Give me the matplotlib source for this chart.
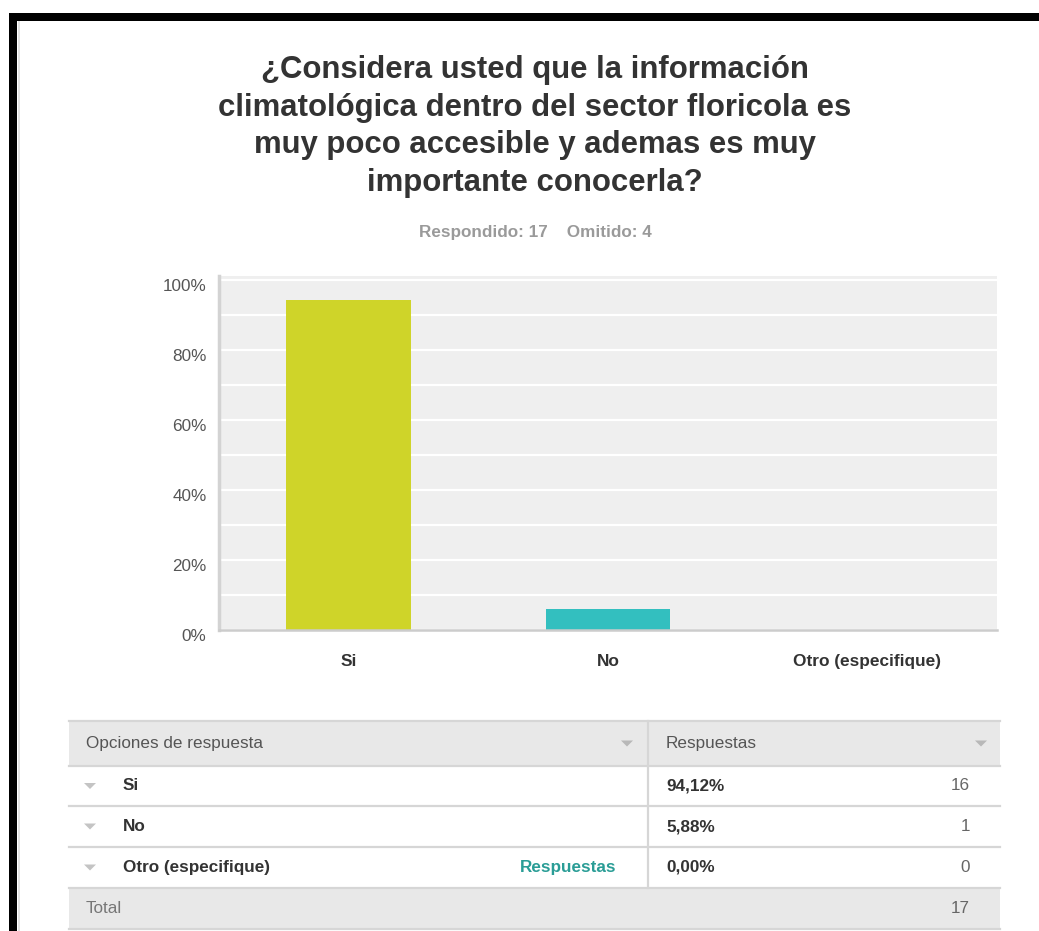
import matplotlib
matplotlib.use("Agg")
import matplotlib.pyplot as plt
from matplotlib.patches import Rectangle
from matplotlib.transforms import ScaledTranslation

plt.rcParams['font.family'] = ['Liberation Sans', 'DejaVu Sans']

# data
categories = ['Si', 'No', 'Otro (especifique)']
percents = [94.12, 5.88, 0.00]
counts = [16, 1, 0]
bar_colors = ['#cfd429', '#33bfbf', '#999999']
answered = 17
skipped = 4
title = ('¿Considera usted que la información\nclimatológica dentro del sector floricola es\n'
         'muy poco accesible y ademas es muy\nimportante conocerla?')
yticks = [0, 20, 40, 60, 80, 100]

W, H = 1039, 931
fig = plt.figure(figsize=(W / 100, H / 100), dpi=100)
fig.patch.set_facecolor('white')

# overlay axes in pixel coords for frame + table
ov = fig.add_axes([0, 0, 1, 1])
ov.set_xlim(0, W)
ov.set_ylim(H, 0)
ov.axis('off')
ov.add_patch(Rectangle((9, 13), W - 9, 8, color='black', lw=0))
ov.add_patch(Rectangle((9, 13), 8, H - 13, color='black', lw=0))
ov.add_patch(Rectangle((18, 21), 2, H - 21, color='#e2e2e2', lw=0))

# title + subtitle
fig.text(535 / W, 1 - 55 / H, title, ha='center', va='top', fontsize=22.4,
         fontweight='bold', color='#333333', linespacing=1.33)
fig.text(535 / W, 1 - 232 / H, f'Respondido: {answered}    Omitido: {skipped}',
         ha='center', va='center', fontsize=12.3, fontweight='bold', color='#9a9a9a')

# bar chart
ax = fig.add_axes([219 / W, 1 - 630 / H, 778 / W, 354 / H])
ax.set_facecolor('#efefef')
x = range(len(categories))
ax.bar(x, percents, width=0.48, color=bar_colors, zorder=3)
ax.set_xlim(-0.5, len(categories) - 0.5)
ax.set_ylim(0, 101.1)
ax.set_yticks(range(0, 101, 10), minor=True)
ax.set_yticks(yticks)
ax.set_yticklabels([f'{t}%' for t in yticks])
ax.grid(axis='y', which='both', color='white', lw=1.6, zorder=1)
ax.set_xticks(list(x))
ax.set_xticklabels(categories, fontweight='bold')
ax.tick_params(axis='x', length=0, pad=17, labelsize=12.4, labelcolor='#333333')
ax.tick_params(axis='y', which='both', length=0, pad=9, labelsize=12.3, labelcolor='#555555')
for lab in ax.get_yticklabels():
    lab.set_transform(lab.get_transform() + ScaledTranslation(0, -0.05, fig.dpi_scale_trans))
for s in ['top', 'right']:
    ax.spines[s].set_visible(False)
ax.spines['left'].set_color('#d3d3d3')
ax.spines['left'].set_linewidth(2.5)
ax.spines['bottom'].set_color('#cccccc')
ax.spines['bottom'].set_linewidth(1.8)
ax.spines['left'].set_zorder(4)
ax.spines['bottom'].set_zorder(4)

# table
tx0, tx1, tdiv = 69, 1000, 648
row_y = [721, 766, 806, 847, 888, 929]
line_c = '#d6d6d6'
hdr_bg = '#e8e8e8'
fs = 12.3


def tri(cx, cy, c='#b8b8b8'):
    ov.fill([cx - 6, cx + 6, cx], [cy - 3, cy - 3, cy + 3], color=c, lw=0)


ov.add_patch(Rectangle((tx0, row_y[0]), tx1 - tx0, row_y[1] - row_y[0], color=hdr_bg, lw=0))
ov.add_patch(Rectangle((tx0, row_y[4]), tx1 - tx0, row_y[5] - row_y[4], color=hdr_bg, lw=0))
for yy in row_y:
    ov.plot([tx0, tx1], [yy, yy], color=line_c, lw=1.6)
ov.plot([tdiv, tdiv], [row_y[0], row_y[4]], color=line_c, lw=1.6)

hc = (row_y[0] + row_y[1]) / 2
ov.text(86, hc, 'Opciones de respuesta', va='center', ha='left', fontsize=fs, color='#555555')
ov.text(666, hc, 'Respuestas', va='center', ha='left', fontsize=fs, color='#555555')
tri(627, hc)
tri(981, hc)

for i, cat in enumerate(categories):
    cy = (row_y[i + 1] + row_y[i + 2]) / 2
    tri(90, cy, '#c4c4c4')
    ov.text(123, cy, cat, va='center', ha='left', fontsize=fs, fontweight='bold', color='#333333')
    ov.text(666, cy, f'{percents[i]:.2f}%'.replace('.', ','), va='center', ha='left',
            fontsize=fs, fontweight='bold', color='#333333')
    ov.text(970, cy, str(counts[i]), va='center', ha='right', fontsize=fs, color='#666666')
    if cat.startswith('Otro'):
        ov.text(616, cy, 'Respuestas', va='center', ha='right', fontsize=fs,
                fontweight='bold', color='#2a9d96')

tc = (row_y[4] + row_y[5]) / 2
ov.text(86, tc, 'Total', va='center', ha='left', fontsize=fs, color='#777777')
ov.text(970, tc, str(sum(counts)), va='center', ha='right', fontsize=fs, color='#666666')

fig.savefig('out.png', dpi=100)
